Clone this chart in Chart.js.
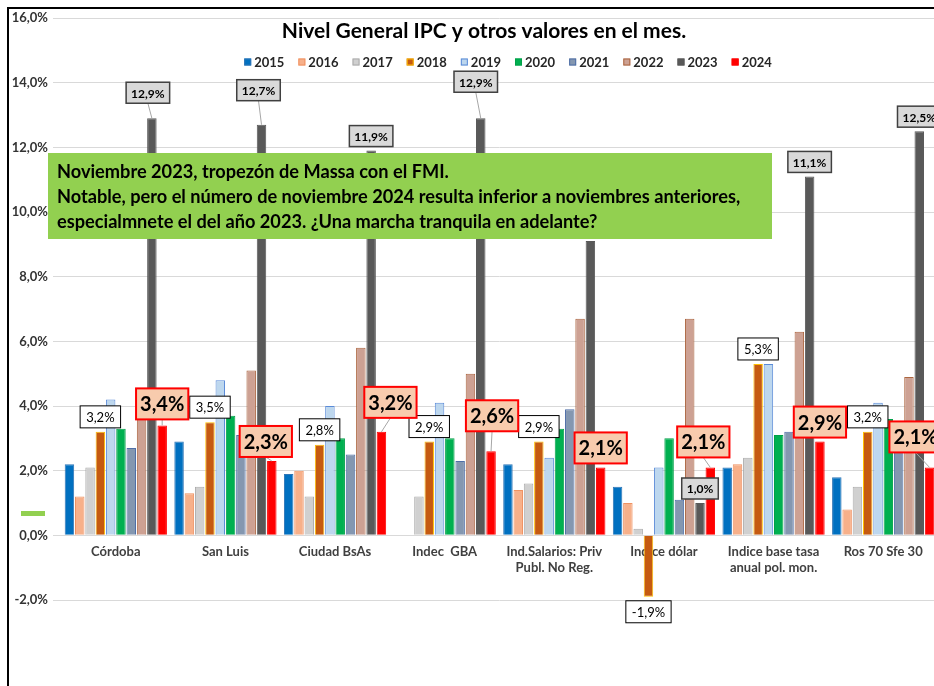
<!DOCTYPE html>
<html>
<head>
<meta charset="utf-8">
<script src="https://cdn.jsdelivr.net/npm/chart.js@4.4.1/dist/chart.umd.min.js"></script>
<style>
  html, body { margin: 0; padding: 0; background: #fff; overflow: hidden; width: 934px; height: 686px; }
  #frame { position: absolute; left: 7px; top: 7px; width: 1000px; height: 1000px; border-left: 2px solid #000; border-top: 2px solid #000; }
  #c { position: absolute; left: 0; top: 0; }
</style>
</head>
<body>
<div id="frame"></div>
<canvas id="c" width="960" height="686"></canvas>
<script>
// categorias (eje X)
const CATEGORIES = [
  'Córdoba', 'San Luis', 'Ciudad BsAs', 'Indec  GBA',
  ['Ind.Salarios: Priv', 'Publ. No Reg.'], 'Indice dólar',
  ['Indice base tasa', 'anual pol. mon.'], 'Ros 70 Sfe 30'
];
const YEARS = ['2015', '2016', '2017', '2018', '2019', '2020', '2021', '2022', '2023', '2024'];

// valores mensuales (%) por año
const V2015 = [2.2, 2.9, 1.9, null, 2.2, 1.5, 2.1, 1.8];
const V2016 = [1.2, 1.3, 2.0, null, 1.4, 1.0, 2.2, 0.8];
const V2017 = [2.1, 1.5, 1.2, 1.2, 1.6, 0.2, 2.4, 1.5];
const V2018 = [3.2, 3.5, 2.8, 2.9, 2.9, -1.9, 5.3, 3.2];
const V2019 = [4.2, 4.8, 4.0, 4.1, 2.4, 2.1, 5.3, 4.1];
const V2020 = [3.3, 3.7, 3.0, 3.0, 3.3, 3.0, 3.1, 3.6];
const V2021 = [2.7, 3.1, 2.5, 2.3, 3.9, 1.1, 3.2, 3.0];
const V2022 = [4.1, 5.1, 5.8, 5.0, 6.7, 6.7, 6.3, 4.9];
const V2023 = [12.9, 12.7, 11.9, 12.9, 9.1, 1.0, 11.1, 12.5];
const V2024 = [3.4, 2.3, 3.2, 2.6, 2.1, 2.1, 2.9, 2.1];
const VALUES = [V2015, V2016, V2017, V2018, V2019, V2020, V2021, V2022, V2023, V2024];

const Y_MIN = -2;
const Y_MAX = 16;
const Y_STEP = 2;

const TITLE = 'Nivel General IPC y otros valores en el mes.';
const NOTE_LINES = [
  'Noviembre 2023, tropezón de Massa con el FMI.',
  'Notable, pero el número de noviembre 2024 resulta inferior a noviembres anteriores,',
  'especialmnete el del año 2023. ¿Una marcha tranquila en adelante?'
];

// estilos
const FILLS = ['#0070c0', '#f7b08a', '#d0d0d0', '#c55a11', '#bdd7ee', '#00b050', '#8497b0', '#cda193', '#595959', '#ff0000'];
const BORDERS = ['#2e75b6', '#f09262', '#ababab', '#ffc000', '#5b8bd8', '#00a048', '#4f6fa8', '#ac6640', '#595959', '#ff0000'];
const FONT = 'Lato, "Open Sans", sans-serif';

const fmt = v => v.toFixed(1).replace('.', ',') + '%';

// etiquetas de datos: qué series y con qué caja
const LABEL_STYLE = {
  '2018': { font: '13px ' + FONT, fill: '#ffffff', stroke: '#000000', lw: 1, pad: 6, h: 22 },
  '2023': { font: 'bold 12px ' + FONT, fill: '#d9d9d9', stroke: '#404040', lw: 1.5, pad: 5, h: 21 },
  '2024': { font: 'bold 20px ' + FONT, fill: '#f8cbad', stroke: '#ff0000', lw: 2, pad: 4, h: 31 }
};
// desplazamientos manuales de las etiquetas (px), como en la planilla
const LABEL_SHIFT = {
  '2023': [[-4, -11], [-3, -20], [0, 0], [-5, -22], [0, 0], [0, 0], [0, 0], [0, 0]],
  '2024': [[0, -2], [-6, 0], [9, -10], [1, -16], [0, 0], [-7, -6], [0, 0], [-14, -11]]
};

const dataLabels = {
  id: 'dataLabels',
  afterDatasetsDraw(chart) {
    const ctx = chart.ctx;
    ctx.save();
    chart.data.datasets.forEach((ds, di) => {
      const st = LABEL_STYLE[ds.label];
      if (!st) return;
      const meta = chart.getDatasetMeta(di);
      const shifts = LABEL_SHIFT[ds.label] || [];
      meta.data.forEach((el, i) => {
        const v = ds.data[i];
        if (v === null || v === undefined) return;
        const txt = fmt(v);
        ctx.font = st.font;
        const w = ctx.measureText(txt).width + st.pad * 2;
        const [dx, dy] = shifts[i] || [0, 0];
        let cy = v >= 0 ? el.y - 4 - st.h / 2 : el.y + 4 + st.h / 2;
        const cx = el.x + dx;
        cy += dy;
        if (dx !== 0 || dy !== 0) {
          ctx.strokeStyle = '#a6a6a6';
          ctx.lineWidth = 1;
          ctx.beginPath();
          ctx.moveTo(cx, cy + st.h / 2);
          ctx.lineTo(el.x, el.y);
          ctx.stroke();
        }
        ctx.fillStyle = st.fill;
        ctx.fillRect(cx - w / 2, cy - st.h / 2, w, st.h);
        ctx.strokeStyle = st.stroke;
        ctx.lineWidth = st.lw;
        ctx.strokeRect(cx - w / 2, cy - st.h / 2, w, st.h);
        ctx.fillStyle = '#000';
        ctx.textAlign = 'center';
        ctx.textBaseline = 'middle';
        ctx.fillText(txt, cx, cy + 1);
      });
    });

    // recuadro verde con el comentario
    ctx.fillStyle = '#92d050';
    ctx.fillRect(48, 153, 724, 86);
    ctx.font = 'bold 30px ' + FONT;
    const size = 30 * 683 / ctx.measureText(NOTE_LINES[1]).width;
    ctx.font = 'bold ' + size.toFixed(1) + 'px ' + FONT;
    ctx.fillStyle = '#000';
    ctx.textAlign = 'left';
    ctx.textBaseline = 'middle';
    NOTE_LINES.forEach((t, i) => ctx.fillText(t, 57, 172 + i * 25));

    // trazo verde suelto a la izquierda
    ctx.fillStyle = '#92d050';
    ctx.fillRect(21, 511, 24, 5);
    ctx.restore();
  }
};

const titleLegend = {
  id: 'titleLegend',
  afterDraw(chart) {
    const ctx = chart.ctx;
    ctx.save();
    ctx.font = 'bold 30px ' + FONT;
    const ts = 30 * 405 / ctx.measureText(TITLE).width;
    ctx.font = 'bold ' + ts.toFixed(1) + 'px ' + FONT;
    ctx.fillStyle = '#000';
    ctx.textAlign = 'center';
    ctx.textBaseline = 'middle';
    ctx.fillText(TITLE, 484, 31);

    // leyenda
    ctx.font = 'bold 13px ' + FONT;
    const box = 7, gap = 3, spacing = 14;
    const items = chart.data.datasets.map(d => ({ d, w: box + gap + ctx.measureText(d.label).width }));
    const total = items.reduce((s, it) => s + it.w, 0) + spacing * (items.length - 1);
    let x = 508 - total / 2;
    const y = 62;
    ctx.textAlign = 'left';
    items.forEach(it => {
      ctx.fillStyle = it.d.backgroundColor;
      ctx.fillRect(x, y - box / 2, box, box);
      ctx.strokeStyle = it.d.borderColor;
      ctx.lineWidth = 1;
      ctx.strokeRect(x + 0.5, y - box / 2 + 0.5, box - 1, box - 1);
      ctx.fillStyle = '#262626';
      ctx.fillText(it.d.label, x + box + gap, y + 1);
      x += it.w + spacing;
    });
    ctx.restore();
  }
};

const datasets = YEARS.map((yr, i) => ({
  label: yr,
  data: VALUES[i],
  backgroundColor: FILLS[i],
  borderColor: BORDERS[i],
  borderWidth: 1
}));

new Chart(document.getElementById('c'), {
  type: 'bar',
  data: { labels: CATEGORIES, datasets },
  options: {
    responsive: false,
    animation: false,
    layout: { padding: { left: 9, right: 22, top: 18, bottom: 86 } },
    datasets: { bar: { categoryPercentage: 0.94, barPercentage: 0.92 } },
    plugins: { legend: { display: false }, tooltip: { enabled: false } },
    scales: {
      x: {
        position: { y: 0 },
        grid: { display: false, drawTicks: false },
        border: { display: true, color: '#d9d9d9', width: 1 },
        ticks: { padding: 9, autoSkip: false, maxRotation: 0, color: '#404040', font: { family: FONT, size: 13, weight: 'bold' } },
        afterFit: s => { s.height = 40; }
      },
      y: {
        min: Y_MIN,
        max: Y_MAX,
        ticks: { stepSize: Y_STEP, padding: 5, color: '#333', font: { family: FONT, size: 13, weight: 'bold' }, callback: v => fmt(v) },
        grid: { color: '#d9d9d9', tickLength: 8 },
        border: { display: false },
        afterFit: s => { s.width = 52; }
      }
    }
  },
  plugins: [dataLabels, titleLegend]
});
</script>
</body>
</html>
